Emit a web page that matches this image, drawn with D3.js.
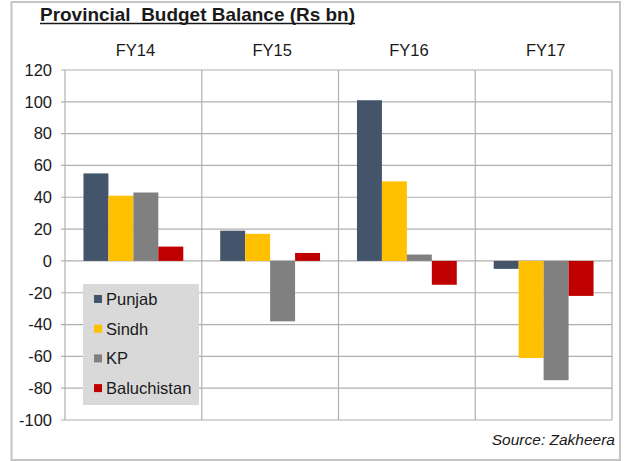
<!DOCTYPE html>
<html>
<head>
<meta charset="utf-8">
<script src="https://cdn.jsdelivr.net/npm/d3@7"></script>
<style>
  html, body { margin: 0; padding: 0; background: #fff; }
  svg { display: block; font-family: "Liberation Sans", Arial, sans-serif; }
</style>
</head>
<body>
<svg id="chart" width="640" height="461"></svg>
<script>
const categories = ["FY14", "FY15", "FY16", "FY17"];
const seriesNames = ["Punjab", "Sindh", "KP", "Baluchistan"];
const punjab = [55, 19, 101, -5];
const sindh = [41, 17, 50, -61];
const kp = [43, -38, 4, -75];
const baluchistan = [9, 5, -15, -22];
const seriesColors = ["#44546a", "#ffc000", "#808080", "#c00000"];
const yTicks = [-100, -80, -60, -40, -20, 0, 20, 40, 60, 80, 100, 120];
const titleText = "Provincial  Budget Balance (Rs bn)";
const sourceText = "Source: Zakheera";

const seriesValues = [punjab, sindh, kp, baluchistan];

const svg = d3.select("#chart");

// outer frame
svg.append("rect")
  .attr("x", 11.5).attr("y", 2).attr("width", 608.5).attr("height", 458)
  .attr("fill", "none").attr("stroke", "#c4c4c4").attr("stroke-width", 2);

const plot = { left: 65, right: 612, top: 70, bottom: 420 };

const x0 = d3.scaleBand().domain(categories).range([plot.left, plot.right]).paddingInner(0).paddingOuter(0);
const x1 = d3.scaleBand().domain(seriesNames).range([0, x0.bandwidth()]).paddingInner(0).paddingOuter(0.74);
const y = d3.scaleLinear().domain([-100, 120]).range([plot.bottom, plot.top]);

const gridColor = "#b0b0b0";

// horizontal gridlines
svg.append("g").selectAll("line").data(yTicks).join("line")
  .attr("x1", plot.left - 4).attr("x2", plot.right)
  .attr("y1", d => y(d)).attr("y2", d => y(d))
  .attr("stroke", gridColor).attr("stroke-width", 1.2);

// vertical category dividers
const dividers = categories.map(c => x0(c)).concat([plot.right]);
svg.append("g").selectAll("line").data(dividers).join("line")
  .attr("x1", d => d).attr("x2", d => d)
  .attr("y1", plot.top).attr("y2", plot.bottom)
  .attr("stroke", gridColor).attr("stroke-width", 1.2);

// y axis labels (plain hyphen minus as in the reference)
const yAxis = d3.axisLeft(y).tickValues(yTicks).tickSize(0).tickPadding(13).tickFormat(d => String(d));
const gy = svg.append("g").attr("transform", `translate(${plot.left},0)`).call(yAxis);
gy.select(".domain").remove();
gy.selectAll("text").attr("font-size", 16.5).attr("fill", "#1a1a1a")
  .attr("font-family", "Liberation Sans, Arial, sans-serif");

// category labels at top
svg.append("g").selectAll("text").data(categories).join("text")
  .attr("x", d => x0(d) + x0.bandwidth() / 2 + 2)
  .attr("y", 56)
  .attr("text-anchor", "middle")
  .attr("font-size", 16.5).attr("fill", "#1a1a1a")
  .text(d => d);

// bars
const barData = [];
categories.forEach((c, i) => {
  seriesNames.forEach((s, j) => {
    barData.push({ cat: c, series: s, value: seriesValues[j][i], color: seriesColors[j] });
  });
});
svg.append("g").selectAll("rect").data(barData).join("rect")
  .attr("x", d => x0(d.cat) + x1(d.series))
  .attr("width", x1.bandwidth())
  .attr("y", d => y(Math.max(0, d.value)))
  .attr("height", d => Math.abs(y(d.value) - y(0)))
  .attr("fill", d => d.color);

// legend
const legend = svg.append("g");
legend.append("rect")
  .attr("x", 83).attr("y", 284).attr("width", 116).attr("height", 121)
  .attr("fill", "#d9d9d9");
const li = legend.selectAll("g.item").data(seriesNames).join("g").attr("class", "item")
  .attr("transform", (d, i) => `translate(94, ${299 + i * 29.7})`);
li.append("rect").attr("x", 0).attr("y", -4).attr("width", 8).attr("height", 8)
  .attr("fill", (d, i) => seriesColors[i]);
li.append("text").attr("x", 12).attr("y", 6)
  .attr("font-size", 16.5).attr("fill", "#1a1a1a").text(d => d);

// title
svg.append("text")
  .attr("x", 40).attr("y", 21)
  .attr("font-size", 18.5).attr("font-weight", "bold").attr("fill", "#1a1a1a")
  .attr("textLength", 315).attr("lengthAdjust", "spacingAndGlyphs")
  .style("white-space", "pre")
  .text(titleText);
svg.append("line")
  .attr("x1", 40).attr("x2", 355).attr("y1", 23.5).attr("y2", 23.5)
  .attr("stroke", "#1a1a1a").attr("stroke-width", 1.5);

// source
svg.append("text")
  .attr("x", 615).attr("y", 445)
  .attr("text-anchor", "end")
  .attr("font-size", 15.5).attr("font-style", "italic").attr("fill", "#1a1a1a")
  .text(sourceText);
</script>
</body>
</html>
